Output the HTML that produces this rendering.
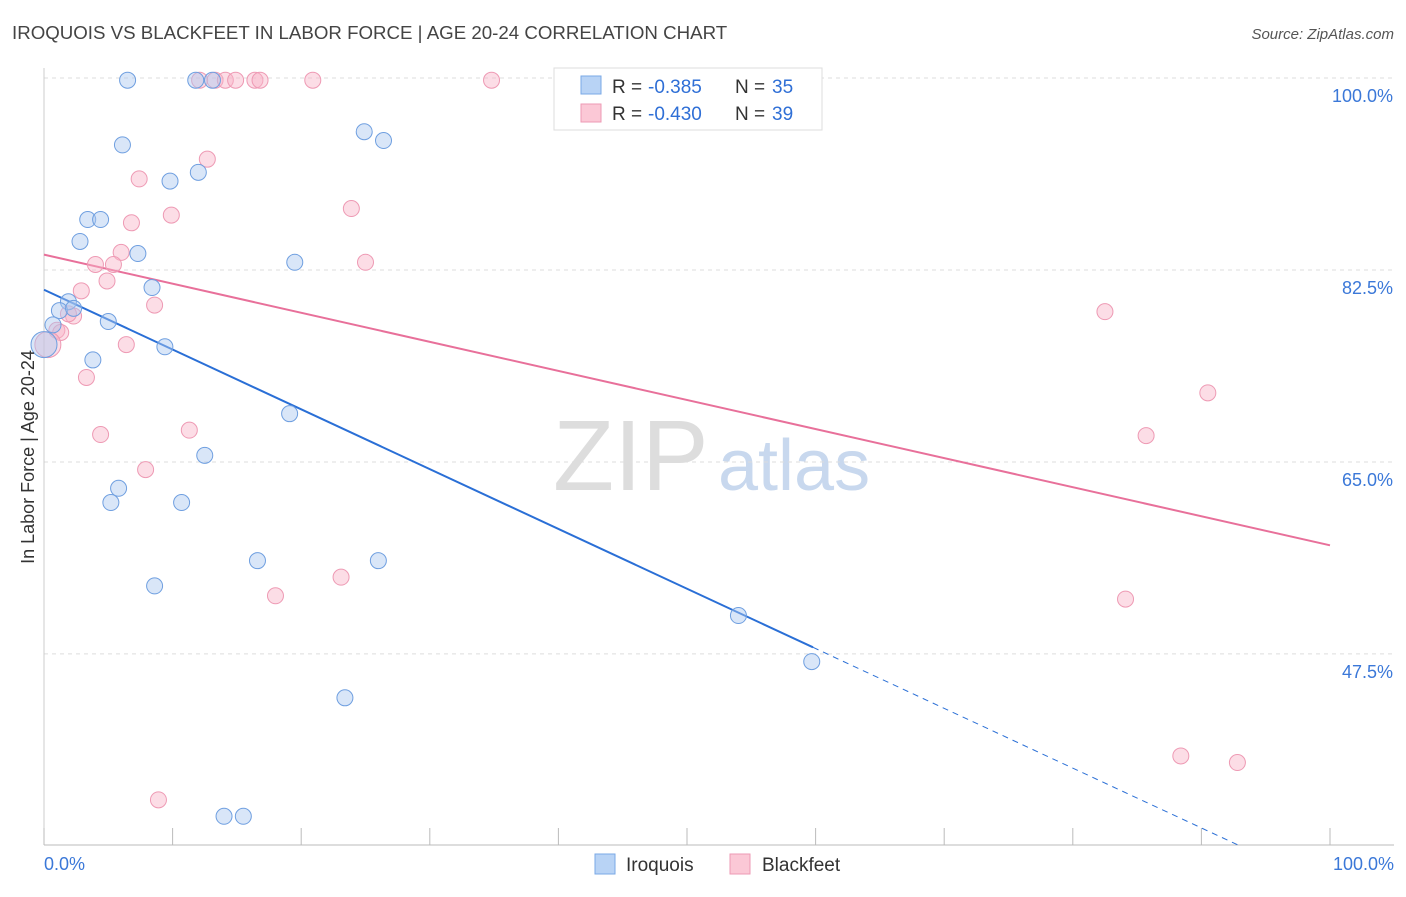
<!DOCTYPE html>
<html><head><meta charset="utf-8"><style>
body{margin:0;background:#fff;font-family:"Liberation Sans",sans-serif;}
svg text{font-family:"Liberation Sans",sans-serif;}
</style></head><body>
<svg id="chart" width="1406" height="892" xmlns="http://www.w3.org/2000/svg">
<text x="12" y="39" font-size="18.7" fill="#444">IROQUOIS VS BLACKFEET IN LABOR FORCE | AGE 20-24 CORRELATION CHART</text>
<text x="1394" y="39" font-size="15" fill="#555" text-anchor="end" font-style="italic">Source: ZipAtlas.com</text>
<text x="553" y="490" font-size="100" fill="#ddd" font-family="Liberation Serif">ZIP</text>
<text x="718" y="490" font-size="72" fill="#c8d8ee">atlas</text>
<g id="grid"></g><g id="axes"></g><g id="trend"></g><g id="pts"></g>
<g>
<rect x="554" y="68" width="268" height="62" fill="#fff" stroke="#ddd"/>
<rect x="581" y="76" width="20" height="18" fill="#b8d3f5" stroke="#7aa8e6"/>
<rect x="581" y="104" width="20" height="18" fill="#fbc8d6" stroke="#ee9ab4"/>
<text x="612" y="93" font-size="19" fill="#333">R =</text>
<text x="648" y="93" font-size="19" fill="#2f6fd6">-0.385</text>
<text x="735" y="93" font-size="19" fill="#333">N =</text>
<text x="772" y="93" font-size="19" fill="#2f6fd6">35</text>
<text x="612" y="120" font-size="19" fill="#333">R =</text>
<text x="648" y="120" font-size="19" fill="#2f6fd6">-0.430</text>
<text x="735" y="120" font-size="19" fill="#333">N =</text>
<text x="772" y="120" font-size="19" fill="#2f6fd6">39</text>
</g>
<g>
<rect x="595" y="854" width="20" height="20" fill="#b8d3f5" stroke="#7aa8e6"/>
<text x="626" y="871" font-size="19" fill="#333">Iroquois</text>
<rect x="730" y="854" width="20" height="20" fill="#fbc8d6" stroke="#ee9ab4"/>
<text x="762" y="871" font-size="19" fill="#333">Blackfeet</text>
</g>
<text transform="translate(34,457) rotate(-90)" font-size="18" fill="#333" text-anchor="middle">In Labor Force | Age 20-24</text>
</svg>
<script>
const yTicks=[100,82.5,65,47.5];
const yTickLabels=["100.0%","82.5%","65.0%","47.5%"];
const xTicks=[0,10,20,30,40,50,60,70,80,90,100];
const iroX=[6.5,11.8,13.1,6.1,9.8,12.0,24.9,26.4,3.4,4.4,2.8,7.3,19.5,8.4,1.9,1.2,5.0,0.7,9.4,3.8,19.1,12.5,5.8,5.2,10.7,16.6,26.0,8.6,54.0,59.7,23.4,14.0,15.5,0,2.3];
const iroY=[99.8,99.8,99.8,93.9,90.6,91.4,95.1,94.3,87.1,87.1,85.1,84.0,83.2,80.9,79.6,78.8,77.8,77.5,75.5,74.3,69.4,65.6,62.6,61.3,61.3,56.0,56.0,53.7,51.0,46.8,43.5,32.7,32.7,75.7,79.0];
const blkX=[12.1,13.3,14.1,14.9,16.4,16.8,20.9,34.8,12.7,7.4,9.9,6.8,23.9,6.0,4.0,5.4,25.0,4.9,2.9,8.6,2.3,1.9,1.0,1.3,6.4,3.3,82.5,90.5,4.4,11.3,85.7,7.9,23.1,18.0,84.1,88.4,92.8,8.9,0.3];
const blkY=[99.8,99.8,99.8,99.8,99.8,99.8,99.8,99.8,92.6,90.8,87.5,86.8,88.1,84.1,83.0,83.0,83.2,81.5,80.6,79.3,78.3,78.5,77.0,76.8,75.7,72.7,78.7,71.3,67.5,67.9,67.4,64.3,54.5,52.8,52.5,38.2,37.6,34.2,75.7];
const iroTrend=[80.7,48.1]; // at x=0 and x=59.8
const blkTrend=[83.9,57.4]; // at x=0 and x=100
const NS="http://www.w3.org/2000/svg";
const X=v=>44+v*12.86, Y=v=>78+(100-v)*10.97;
function mk(t,a,p){const e=document.createElementNS(NS,t);for(const k in a)e.setAttribute(k,a[k]);document.getElementById(p).appendChild(e);return e;}
yTicks.forEach((t,i)=>{
 const l=mk('line',{x1:44,x2:1394,y1:Y(t),y2:Y(t),stroke:'#ddd','stroke-dasharray':'4,4'},'grid');
 
 
 const tx=mk('text',{x:1393,y:Y(t)+24,'font-size':18,fill:'#3b78d8','text-anchor':'end'},'grid');
 tx.textContent=yTickLabels[i];
 
 
});
const ax=mk('line',{x1:44,x2:1394,y1:845,y2:845,stroke:'#bbb'},'axes');


const ay=mk('line',{x1:44,x2:44,y1:68,y2:845,stroke:'#ccc'},'axes');


xTicks.forEach(t=>{const l=mk('line',{x1:X(t),x2:X(t),y1:828,y2:845,stroke:'#bbb'},'axes');
 
 });
[[0,'start',44,'x-min-label','0.0%'],[100,'end',1394,'x-max-label','100.0%']].forEach(a=>{
 const t=mk('text',{x:a[2],y:870,'font-size':18,fill:'#3b78d8','text-anchor':a[1]},'axes');t.textContent=a[4];
 
 });
const slope=(iroTrend[1]-iroTrend[0])/59.8;
const b1=mk('line',{x1:X(0),y1:Y(iroTrend[0]),x2:X(59.8),y2:Y(iroTrend[1]),stroke:'#2a6fd6','stroke-width':2},'trend');


const yEnd=30.1, xEnd=(yEnd-iroTrend[0])/slope;
const b2=mk('line',{x1:X(59.8),y1:Y(iroTrend[1]),x2:X(xEnd),y2:Y(yEnd),stroke:'#2a6fd6','stroke-width':1,'stroke-dasharray':'6,5'},'trend');


const p1=mk('line',{x1:X(0),y1:Y(blkTrend[0]),x2:X(100),y2:Y(blkTrend[1]),stroke:'#e8709a','stroke-width':2},'trend');


function pts(xs,ys,fill,stroke,name){xs.forEach((x,i)=>{
 const r=(x===0||x===0.3)&&ys[i]===75.7?13:8;
 const c=mk('circle',{cx:X(x),cy:Y(ys[i]),r:r,fill:fill,stroke:stroke,'stroke-width':1},'pts');
 
 });}
pts(blkX,blkY,'rgba(248,180,200,0.45)','#ee9ab4','blackfeet-point');
pts(iroX,iroY,'rgba(170,200,240,0.45)','#6f9fe0','iroquois-point');
</script>
</body></html>
